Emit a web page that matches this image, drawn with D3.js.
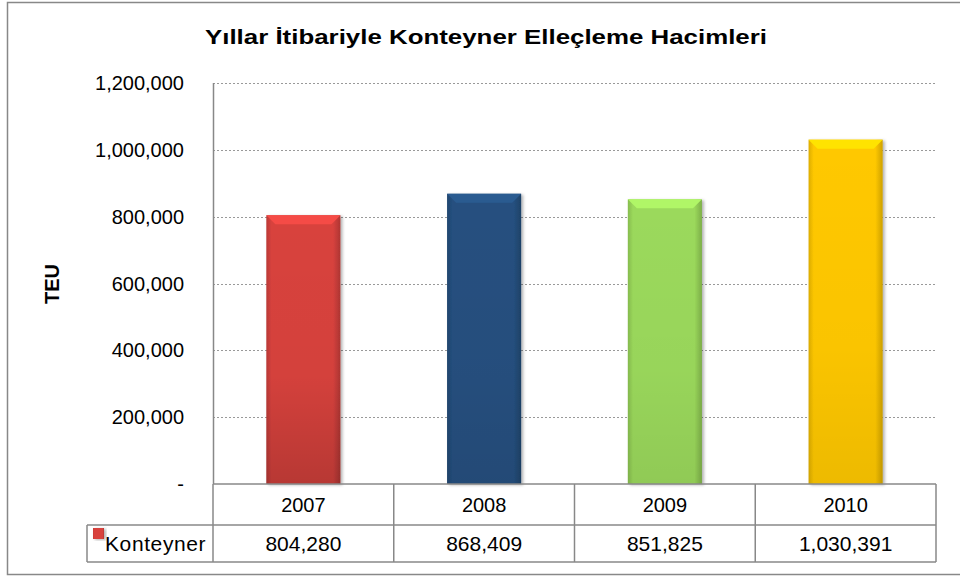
<!DOCTYPE html>
<html>
<head>
<meta charset="utf-8">
<script src="https://cdn.jsdelivr.net/npm/d3@7"></script>
<style>
  body { margin: 0; background: #fff; }
  text { font-family: "Liberation Sans", Arial, sans-serif; fill: #000; }
</style>
</head>
<body>
<div id="chart"></div>
<script>
// data
var years = ["2007", "2008", "2009", "2010"];
var values = [804280, 868409, 851825, 1030391];
var barColors = ["#d8423e", "#25507f", "#9bd95b", "#ffc800"];
var yTicks = [0, 200000, 400000, 600000, 800000, 1000000, 1200000];
var seriesName = "Konteyner";
var title = "Yıllar İtibariyle Konteyner Elleçleme Hacimleri";
var yTitle = "TEU";

var width = 960, height = 577;
var svg = d3.select("#chart").append("svg")
    .attr("width", width)
    .attr("height", height);

var defs = svg.append("defs");

// outer frame
svg.append("rect")
    .attr("x", 7.5).attr("y", 2.5)
    .attr("width", 960).attr("height", 572)
    .attr("fill", "none")
    .attr("stroke", "#888")
    .attr("stroke-width", 1.5);

var plotL = 213, plotR = 936, plotT = 83, plotB = 484;
var row1 = 525, row2 = 562, legendLeft = 87;

var x = d3.scaleBand().domain(years).range([plotL, plotR]).padding(0);
var y = d3.scaleLinear().domain([0, 1200000]).range([plotB, plotT]);

// gridlines
svg.append("g")
    .selectAll("line")
    .data(yTicks.filter(function (d) { return d > 0; }))
    .enter().append("line")
    .attr("x1", plotL).attr("x2", plotR)
    .attr("y1", function (d) { return Math.round(y(d)) + 0.5; })
    .attr("y2", function (d) { return Math.round(y(d)) + 0.5; })
    .attr("stroke", "#999")
    .attr("stroke-width", 1)
    .attr("stroke-dasharray", "2,2");

// y tick labels
svg.append("g")
    .selectAll("text")
    .data(yTicks)
    .enter().append("text")
    .attr("x", 184)
    .attr("y", function (d) { return y(d); })
    .attr("dy", "0.35em")
    .attr("text-anchor", "end")
    .style("font-size", "20px")
    .text(function (d) { return d === 0 ? "-" : d3.format(",")(d); });

// y axis line
svg.append("line")
    .attr("x1", plotL + 0.5).attr("x2", plotL + 0.5)
    .attr("y1", plotT).attr("y2", plotB)
    .attr("stroke", "#888").attr("stroke-width", 1.5);

// gradients for bars
barColors.forEach(function (c, i) {
    var base = d3.color(c);
    var g = defs.append("linearGradient")
        .attr("id", "bar" + i)
        .attr("x1", "0").attr("x2", "1").attr("y1", "0").attr("y2", "0");
    g.append("stop").attr("offset", "0").attr("stop-color", base.darker(0.4));
    g.append("stop").attr("offset", "0.07").attr("stop-color", base);
    g.append("stop").attr("offset", "0.9").attr("stop-color", base);
    g.append("stop").attr("offset", "1").attr("stop-color", base.darker(0.6));

    var v = defs.append("linearGradient")
        .attr("id", "shade" + i)
        .attr("x1", "0").attr("x2", "0").attr("y1", "0").attr("y2", "1");
    v.append("stop").attr("offset", "0").attr("stop-color", "#000").attr("stop-opacity", 0);
    v.append("stop").attr("offset", "0.6").attr("stop-color", "#000").attr("stop-opacity", 0.02);
    v.append("stop").attr("offset", "1").attr("stop-color", "#000").attr("stop-opacity", i === 0 ? 0.15 : 0.07);
});

var shadow = defs.append("filter").attr("id", "shadow")
    .attr("x", "-20%").attr("y", "-10%").attr("width", "140%").attr("height", "120%");
shadow.append("feDropShadow")
    .attr("dx", 2).attr("dy", 1).attr("stdDeviation", 1.5)
    .attr("flood-color", "#000").attr("flood-opacity", 0.3);

var barW = x.bandwidth() * 0.41;
function barX(i) { return x(years[i]) + (x.bandwidth() - barW) / 2; }

var bars = svg.append("g")
    .selectAll("g")
    .data(values)
    .enter().append("g");

bars.append("rect")
    .attr("x", function (d, i) { return barX(i); })
    .attr("y", function (d) { return y(d); })
    .attr("width", barW)
    .attr("height", function (d) { return plotB - y(d); })
    .attr("fill", function (d, i) { return "url(#bar" + i + ")"; })
    .attr("filter", "url(#shadow)");

bars.append("rect")
    .attr("x", function (d, i) { return barX(i); })
    .attr("y", function (d) { return y(d); })
    .attr("width", barW)
    .attr("height", function (d) { return plotB - y(d); })
    .attr("fill", function (d, i) { return "url(#shade" + i + ")"; });

// top bevel
bars.append("path")
    .attr("d", function (d, i) {
        var x0 = barX(i), x1 = x0 + barW, t = y(d), b = 9;
        return "M" + x0 + "," + t + "L" + x1 + "," + t + "L" + (x1 - b) + "," + (t + b) +
            "L" + (x0 + b) + "," + (t + b) + "Z";
    })
    .attr("fill", function (d, i) { return d3.color(barColors[i]).brighter(0.35); });

// data table
var grid = svg.append("g").attr("stroke", "#888").attr("stroke-width", 1.5).attr("fill", "none");
grid.append("line").attr("x1", plotL).attr("x2", plotR).attr("y1", plotB).attr("y2", plotB);
grid.append("line").attr("x1", legendLeft).attr("x2", plotR).attr("y1", row1).attr("y2", row1);
grid.append("line").attr("x1", legendLeft).attr("x2", plotR).attr("y1", row2).attr("y2", row2);
grid.append("line").attr("x1", legendLeft).attr("x2", legendLeft).attr("y1", row1).attr("y2", row2);
grid.append("line").attr("x1", plotR).attr("x2", plotR).attr("y1", plotB).attr("y2", row2);
grid.selectAll("line.col")
    .data(years)
    .enter().append("line")
    .attr("class", "col")
    .attr("x1", function (d) { return x(d); })
    .attr("x2", function (d) { return x(d); })
    .attr("y1", plotB).attr("y2", row2);

svg.append("g")
    .selectAll("text")
    .data(years)
    .enter().append("text")
    .attr("x", function (d) { return x(d) + x.bandwidth() / 2; })
    .attr("y", (plotB + row1) / 2)
    .attr("dy", "0.35em")
    .attr("text-anchor", "middle")
    .style("font-size", "20px")
    .text(function (d) { return d; });

svg.append("g")
    .selectAll("text")
    .data(values)
    .enter().append("text")
    .attr("x", function (d, i) { return x(years[i]) + x.bandwidth() / 2; })
    .attr("y", (row1 + row2) / 2)
    .attr("dy", "0.35em")
    .attr("text-anchor", "middle")
    .style("font-size", "21px")
    .text(function (d) { return d3.format(",")(d); });

// legend key
svg.append("rect")
    .attr("x", 93).attr("y", 528)
    .attr("width", 11).attr("height", 11)
    .attr("fill", "url(#bar0)")
    .attr("filter", "url(#shadow)");
svg.append("text")
    .attr("x", 105)
    .attr("y", (row1 + row2) / 2)
    .attr("dy", "0.35em")
    .style("font-size", "21px")
    .style("letter-spacing", "0.6px")
    .text(seriesName);

// titles
svg.append("text")
    .attr("x", 486)
    .attr("y", 44)
    .attr("text-anchor", "middle")
    .style("font-size", "21px")
    .style("font-weight", "bold")
    .attr("textLength", 562)
    .attr("lengthAdjust", "spacingAndGlyphs")
    .text(title);

svg.append("text")
    .attr("transform", "translate(59,284) rotate(-90)")
    .attr("text-anchor", "middle")
    .style("font-size", "20px")
    .style("font-weight", "bold")
    .text(yTitle);
</script>
</body>
</html>
